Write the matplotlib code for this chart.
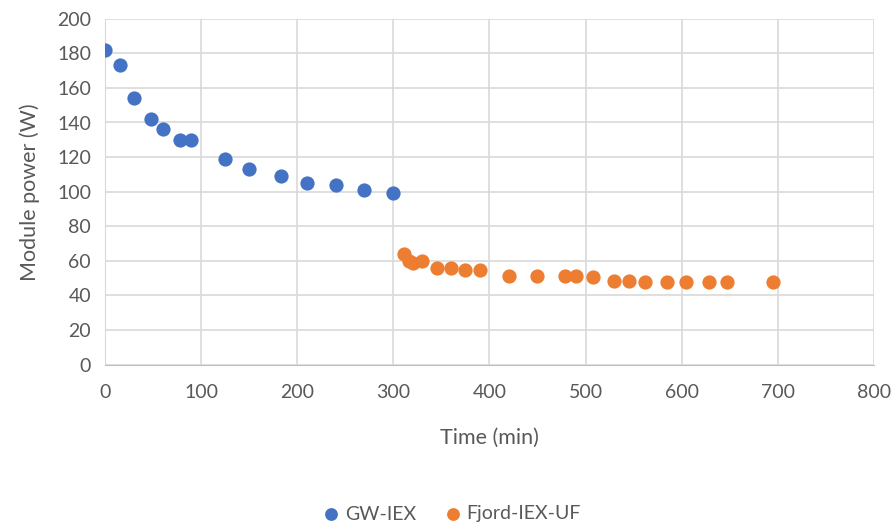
import matplotlib
matplotlib.use("Agg")
import matplotlib.pyplot as plt

# Module power over time for the two pretreatment trains
gw_time = [0, 16, 30, 48, 60, 78, 90, 125, 150, 183, 210, 240, 270, 300]
gw_power = [182, 173, 154, 142, 136, 130, 130, 119, 113, 109, 105, 104, 101, 99]

fjord_time = [311, 316, 320, 330, 345, 360, 375, 390, 420, 450, 479, 490, 508,
              530, 545, 562, 585, 605, 629, 647, 695]
fjord_power = [64, 60, 59, 60, 56, 56, 55, 55, 51, 51, 51, 51, 50.5,
               48.5, 48.5, 48, 47.6, 47.6, 47.6, 47.6, 47.6]

x_ticks = [0, 100, 200, 300, 400, 500, 600, 700, 800]
y_ticks = [0, 20, 40, 60, 80, 100, 120, 140, 160, 180, 200]

plt.rcParams['font.family'] = ['Lato', 'DejaVu Sans']

fig = plt.figure(figsize=(8.93, 5.26), dpi=100)
ax = fig.add_axes([105 / 893, 1 - 364.7 / 526, 768.8 / 893, 346 / 526])

ax.scatter(gw_time, gw_power, s=105, color='#4472C4', label='GW-IEX', zorder=3,
           linewidths=0)
ax.scatter(fjord_time, fjord_power, s=105, color='#ED7D31', label='Fjord-IEX-UF',
           zorder=3, linewidths=0)

ax.set_xlim(0, 800)
ax.set_ylim(0, 200)
ax.set_xticks(x_ticks)
ax.set_yticks(y_ticks)
ax.grid(True, color='#d9d9d9', linewidth=1.2)
ax.set_axisbelow(True)
for side in ['top', 'right']:
    ax.spines[side].set_visible(False)
ax.spines['left'].set_color('#d9d9d9')
ax.spines['bottom'].set_color('#bfbfbf')
ax.tick_params(axis='x', length=0, labelsize=14, colors='#595959', pad=14)
ax.tick_params(axis='y', length=0, labelsize=14, colors='#595959', pad=10)

ax.set_xlabel('Time (min)', fontsize=15.5, color='#595959', labelpad=19)
ax.set_ylabel('Module power (W)', fontsize=15.5, color='#595959', labelpad=12)

fig.legend(loc='center', bbox_to_anchor=(0.5, 1 - 514 / 526), ncol=2, frameon=False,
           fontsize=14, handletextpad=-0.3, columnspacing=0.9, markerscale=0.9,
           labelcolor='#595959')

fig.savefig('out.png', dpi=100)
